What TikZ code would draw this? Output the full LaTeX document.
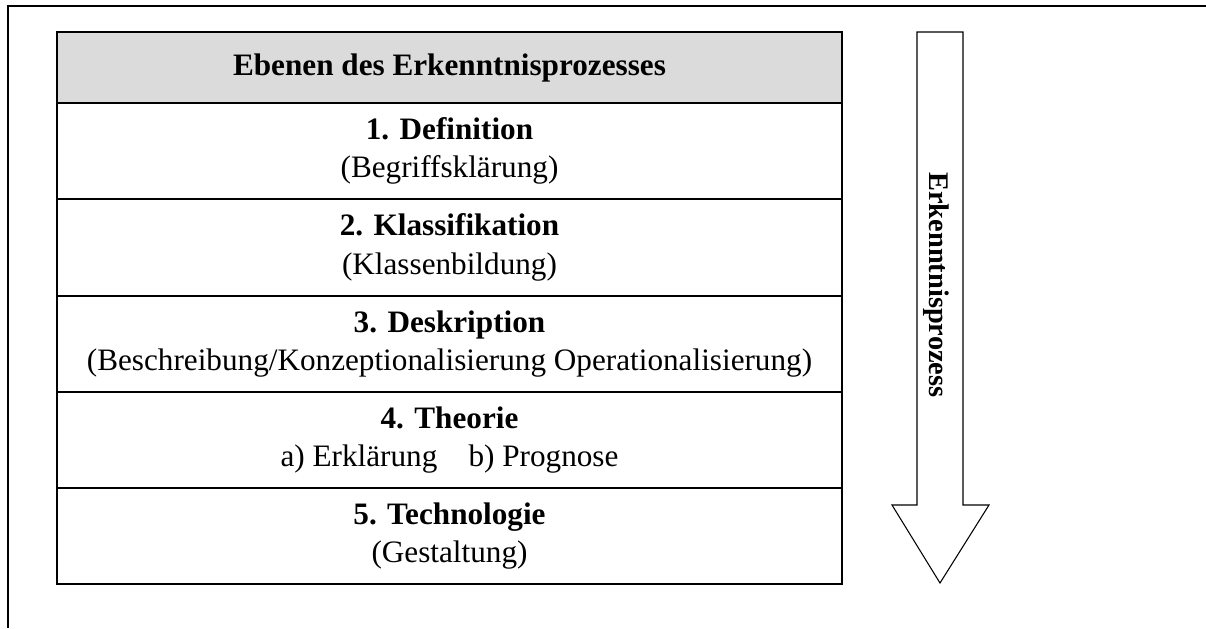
\documentclass[tikz,border=0pt]{standalone}
\usepackage{fontspec}
\setmainfont{Liberation Serif}
\usepackage{tikz}
\usetikzlibrary{fit}

\begin{document}
\begin{tikzpicture}[x=0.75pt, y=-0.75pt,
    every fit/.style={inner sep=0pt, outer sep=0pt, draw, line width=1.1pt},
    every label/.style={align=center, font=\fontsize{23.4}{29}\selectfont},
    kopf/.style={fill=black!14}]
      \useasboundingbox (0,0) rectangle (1206,628);
      % Rahmen
      \draw[line width=1.1pt] (8,628) -- (8,6) -- (1206,6);
      \begin{scope}
        \node [kopf, fit={(57, 32) (842,103)}, label=center:{\textbf{Ebenen des Erkenntnisprozesses}}] (ebenen) {};
        \node [fit={(57,103) (842,199)}, label=center:{\textbf{1. Definition}\\(Begriffsklärung)}] (definition) {};
        \node [fit={(57,199) (842,296)}, label=center:{\textbf{2. Klassifikation}\\(Klassenbildung)}] (klassifikation) {};
        \node [fit={(57,296) (842,392)}, label=center:{\textbf{3. Deskription}\\(Beschreibung/Konzeptionalisierung Operationalisierung)}] (deskription) {};
        \node [fit={(57,392) (842,488)}, label=center:{\textbf{4. Theorie}\\a) Erklärung\quad b) Prognose}] (theorie) {};
        \node [fit={(57,488) (842,584)}, label=center:{\textbf{5. Technologie}\\(Gestaltung)}] (technologie) {};
      \end{scope}
      % Pfeil
      \draw[line width=0.8pt] (917,32) -- (963,32) -- (963,505) -- (989,505)
        -- (940,583) -- (892,505) -- (917,505) -- cycle;
      \node[rotate=-90, font=\fontsize{21.3}{25}\selectfont\bfseries] (prozess) at (936,285) {Erkenntnisprozess};
    \end{tikzpicture}
\end{document}
